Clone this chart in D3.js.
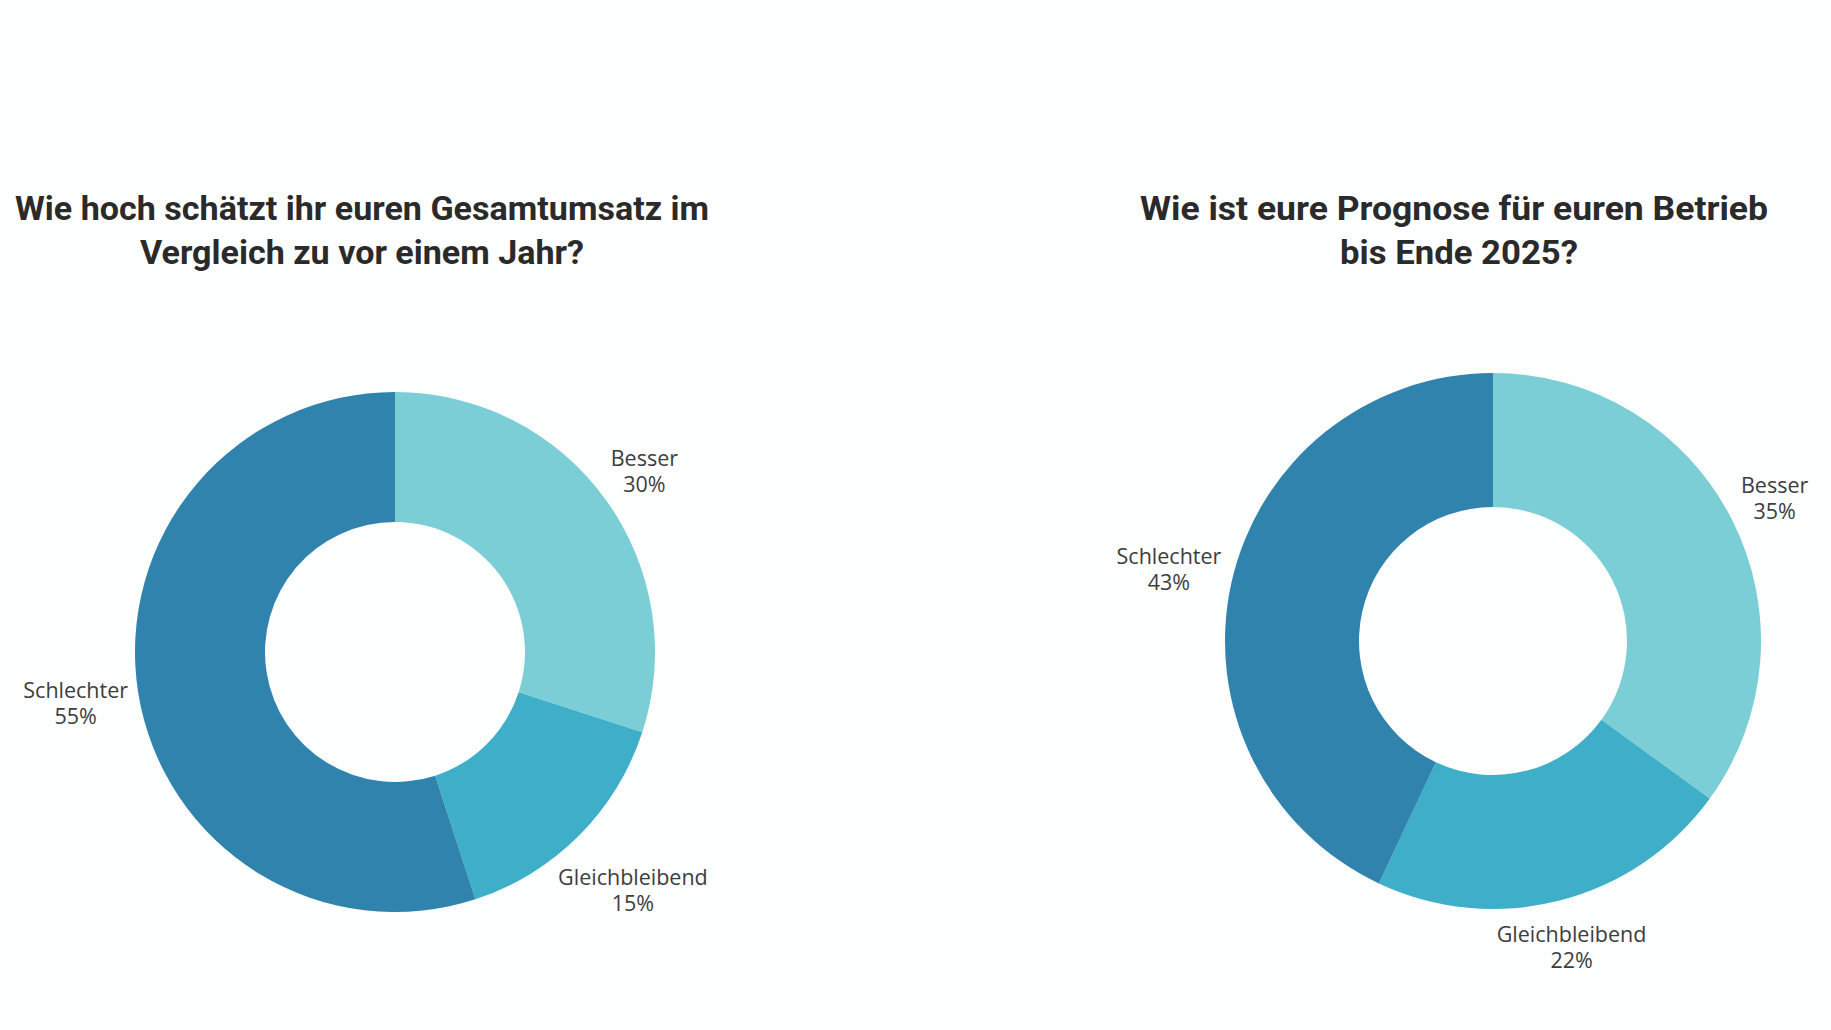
<!DOCTYPE html>
<html>
<head>
<meta charset="utf-8">
<script src="https://cdn.jsdelivr.net/npm/d3@7"></script>
<style>
  html, body { margin: 0; padding: 0; background: #fdfefe; }
  svg { display: block; }
</style>
</head>
<body>
<div class="chart"></div>
<script>
// data
const categories = ["Besser", "Gleichbleibend", "Schlechter"];
const umsatzValues = [30, 15, 55];
const prognoseValues = [35, 22, 43];
const umsatzTitle = ["Wie hoch schätzt ihr euren Gesamtumsatz im", "Vergleich zu vor einem Jahr?"];
const prognoseTitle = ["Wie ist eure Prognose für euren Betrieb", "bis Ende 2025?"];
const sliceColors = ["#7bcdd6", "#3eaec9", "#2f83ac"];

const width = 1831, height = 1030;

const svg = d3.select(".chart").append("svg")
    .attr("width", width)
    .attr("height", height);

svg.append("rect")
    .attr("width", width)
    .attr("height", height)
    .attr("fill", "#fdfefe");

let colorScale = d3.scaleOrdinal().domain(categories).range(sliceColors);

function donut(values, title, opts){
    const g = svg.append("g");

    // title, two centred lines
    g.append("g").selectAll("text")
        .data(title)
        .enter()
        .append("text")
        .attr("x", (d,i) => opts.titleX[i])
        .attr("y", (d,i) => opts.titleY + i*44)
        .attr("text-anchor", "middle")
        .attr("textLength", (d,i) => opts.titleWidths[i])
        .attr("lengthAdjust", "spacingAndGlyphs")
        .style("font-family", "Roboto, sans-serif")
        .style("font-weight", 700)
        .style("font-size", "33px")
        .style("fill", "#2a2a2a")
        .text(d => d);

    const data = categories.map((c,i) => ({cat: c, value: values[i]}));

    const pie = d3.pie().sort(null).value(d => d.value);
    const arc = d3.arc().innerRadius(opts.r*0.5).outerRadius(opts.r);

    const chart = g.append("g")
        .attr("transform", `translate(${opts.cx},${opts.cy})`);

    const arcs = pie(data);

    chart.selectAll("path")
        .data(arcs)
        .enter()
        .append("path")
        .attr("d", arc)
        .attr("fill", d => colorScale(d.data.cat));

    let labels = chart.selectAll(".lbl")
        .data(arcs)
        .enter()
        .append("text")
        .attr("class", "lbl")
        .attr("text-anchor", "middle")
        .style("font-family", "'Open Sans', sans-serif")
        .style("font-size", "21.5px")
        .style("fill", "#3d3d3d");

    labels.append("tspan").attr("x", 0).attr("dy", 0).text(d => d.data.cat);
    labels.append("tspan").attr("x", 0).attr("dy", 26).text(d => d.data.value + "%");

    // push each label out along the slice middle until its box clears the ring
    labels.each(function(d){
        const a = (d.startAngle + d.endAngle)/2;
        const hw = this.getBBox().width/2;
        const hh = 22;
        const dist = opts.r + 8 + Math.abs(Math.sin(a))*hw + Math.abs(Math.cos(a))*hh;
        const x = dist*Math.sin(a), y = -dist*Math.cos(a);
        d3.select(this).attr("transform", `translate(${x},${y-5})`);
    });
}

donut(umsatzValues, umsatzTitle, {
    cx: 395, cy: 652, r: 260,
    titleX: [362, 362], titleY: 220, titleWidths: [694, 444]
});

donut(prognoseValues, prognoseTitle, {
    cx: 1493, cy: 641, r: 268,
    titleX: [1454, 1459], titleY: 220, titleWidths: [628, 238]
});
</script>
</body>
</html>
